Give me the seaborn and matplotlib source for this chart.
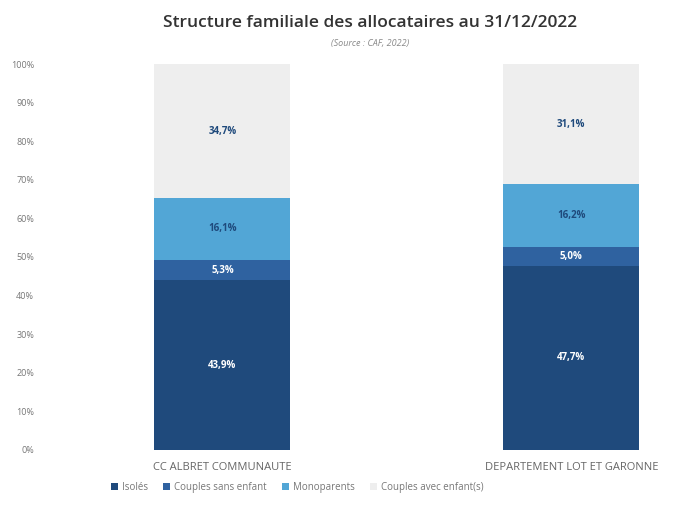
import matplotlib
matplotlib.use("Agg")
import matplotlib.pyplot as plt
import seaborn as sns
import pandas as pd

# Data
territoires = ["CC ALBRET COMMUNAUTE", "DEPARTEMENT LOT ET GARONNE"]
isoles = [43.9, 47.7]
couples_sans_enfant = [5.3, 5.0]
monoparents = [16.1, 16.2]
couples_avec_enfants = [34.7, 31.1]

series = [
    ("Isolés", isoles, "#1f4a7c", "white"),
    ("Couples sans enfant", couples_sans_enfant, "#2f62a0", "white"),
    ("Monoparents", monoparents, "#52a6d6", "#1f4a7c"),
    ("Couples avec enfant(s)", couples_avec_enfants, "#eeeeee", "#1f4a7c"),
]

sns.set_theme(style="white")
plt.rcParams["font.family"] = ["Open Sans", "DejaVu Sans"]

fig = plt.figure(figsize=(6.76, 5.17), dpi=100)
ax = fig.add_axes([0.071, 0.130, 0.929, 0.746])

bottom = [0.0, 0.0]
for name, vals, color, txtcolor in series:
    df = pd.DataFrame({"territoire": territoires, "valeur": vals})
    sns.barplot(data=df, x="territoire", y="valeur", color=color, width=0.39,
                bottom=bottom, label=name, ax=ax, saturation=1, linewidth=0)
    for i, v in enumerate(vals):
        ax.text(i, bottom[i] + v / 2, f"{v:.1f}%".replace(".", ","),
                ha="center", va="center", fontsize=7, fontweight="bold",
                color=txtcolor)
    bottom = [b + v for b, v in zip(bottom, vals)]

ax.set_xlim(-0.5, 1.3)
ax.set_ylim(0, 100)
ax.set_yticks(range(0, 101, 10))
ax.set_yticklabels([f"{t}%" for t in range(0, 101, 10)], fontsize=6.5, color="#777777")
ax.tick_params(axis="y", pad=10, length=0)
ax.tick_params(axis="x", length=0, labelsize=8, labelcolor="#666666", pad=9)
ax.set_xlabel("")
ax.set_ylabel("")
for s in ax.spines.values():
    s.set_visible(False)

fig.text(0.547, 0.955, "Structure familiale des allocataires au 31/12/2022",
         ha="center", va="center", fontsize=12.5, fontweight="semibold",
         color="#333333")
fig.text(0.547, 0.915, "(Source : CAF, 2022)", ha="center", va="center",
         fontsize=6.5, color="#888888", style="italic")

handles, labels = ax.get_legend_handles_labels()
ax.legend(handles, labels, loc="center", bbox_to_anchor=(0.44, 0.058),
          bbox_transform=fig.transFigure, ncol=4, frameon=False,
          fontsize=7, handlelength=0.7, handleheight=0.7, columnspacing=1.6,
          handletextpad=0.4, labelcolor="#777777")

fig.savefig("out.png", dpi=100)
